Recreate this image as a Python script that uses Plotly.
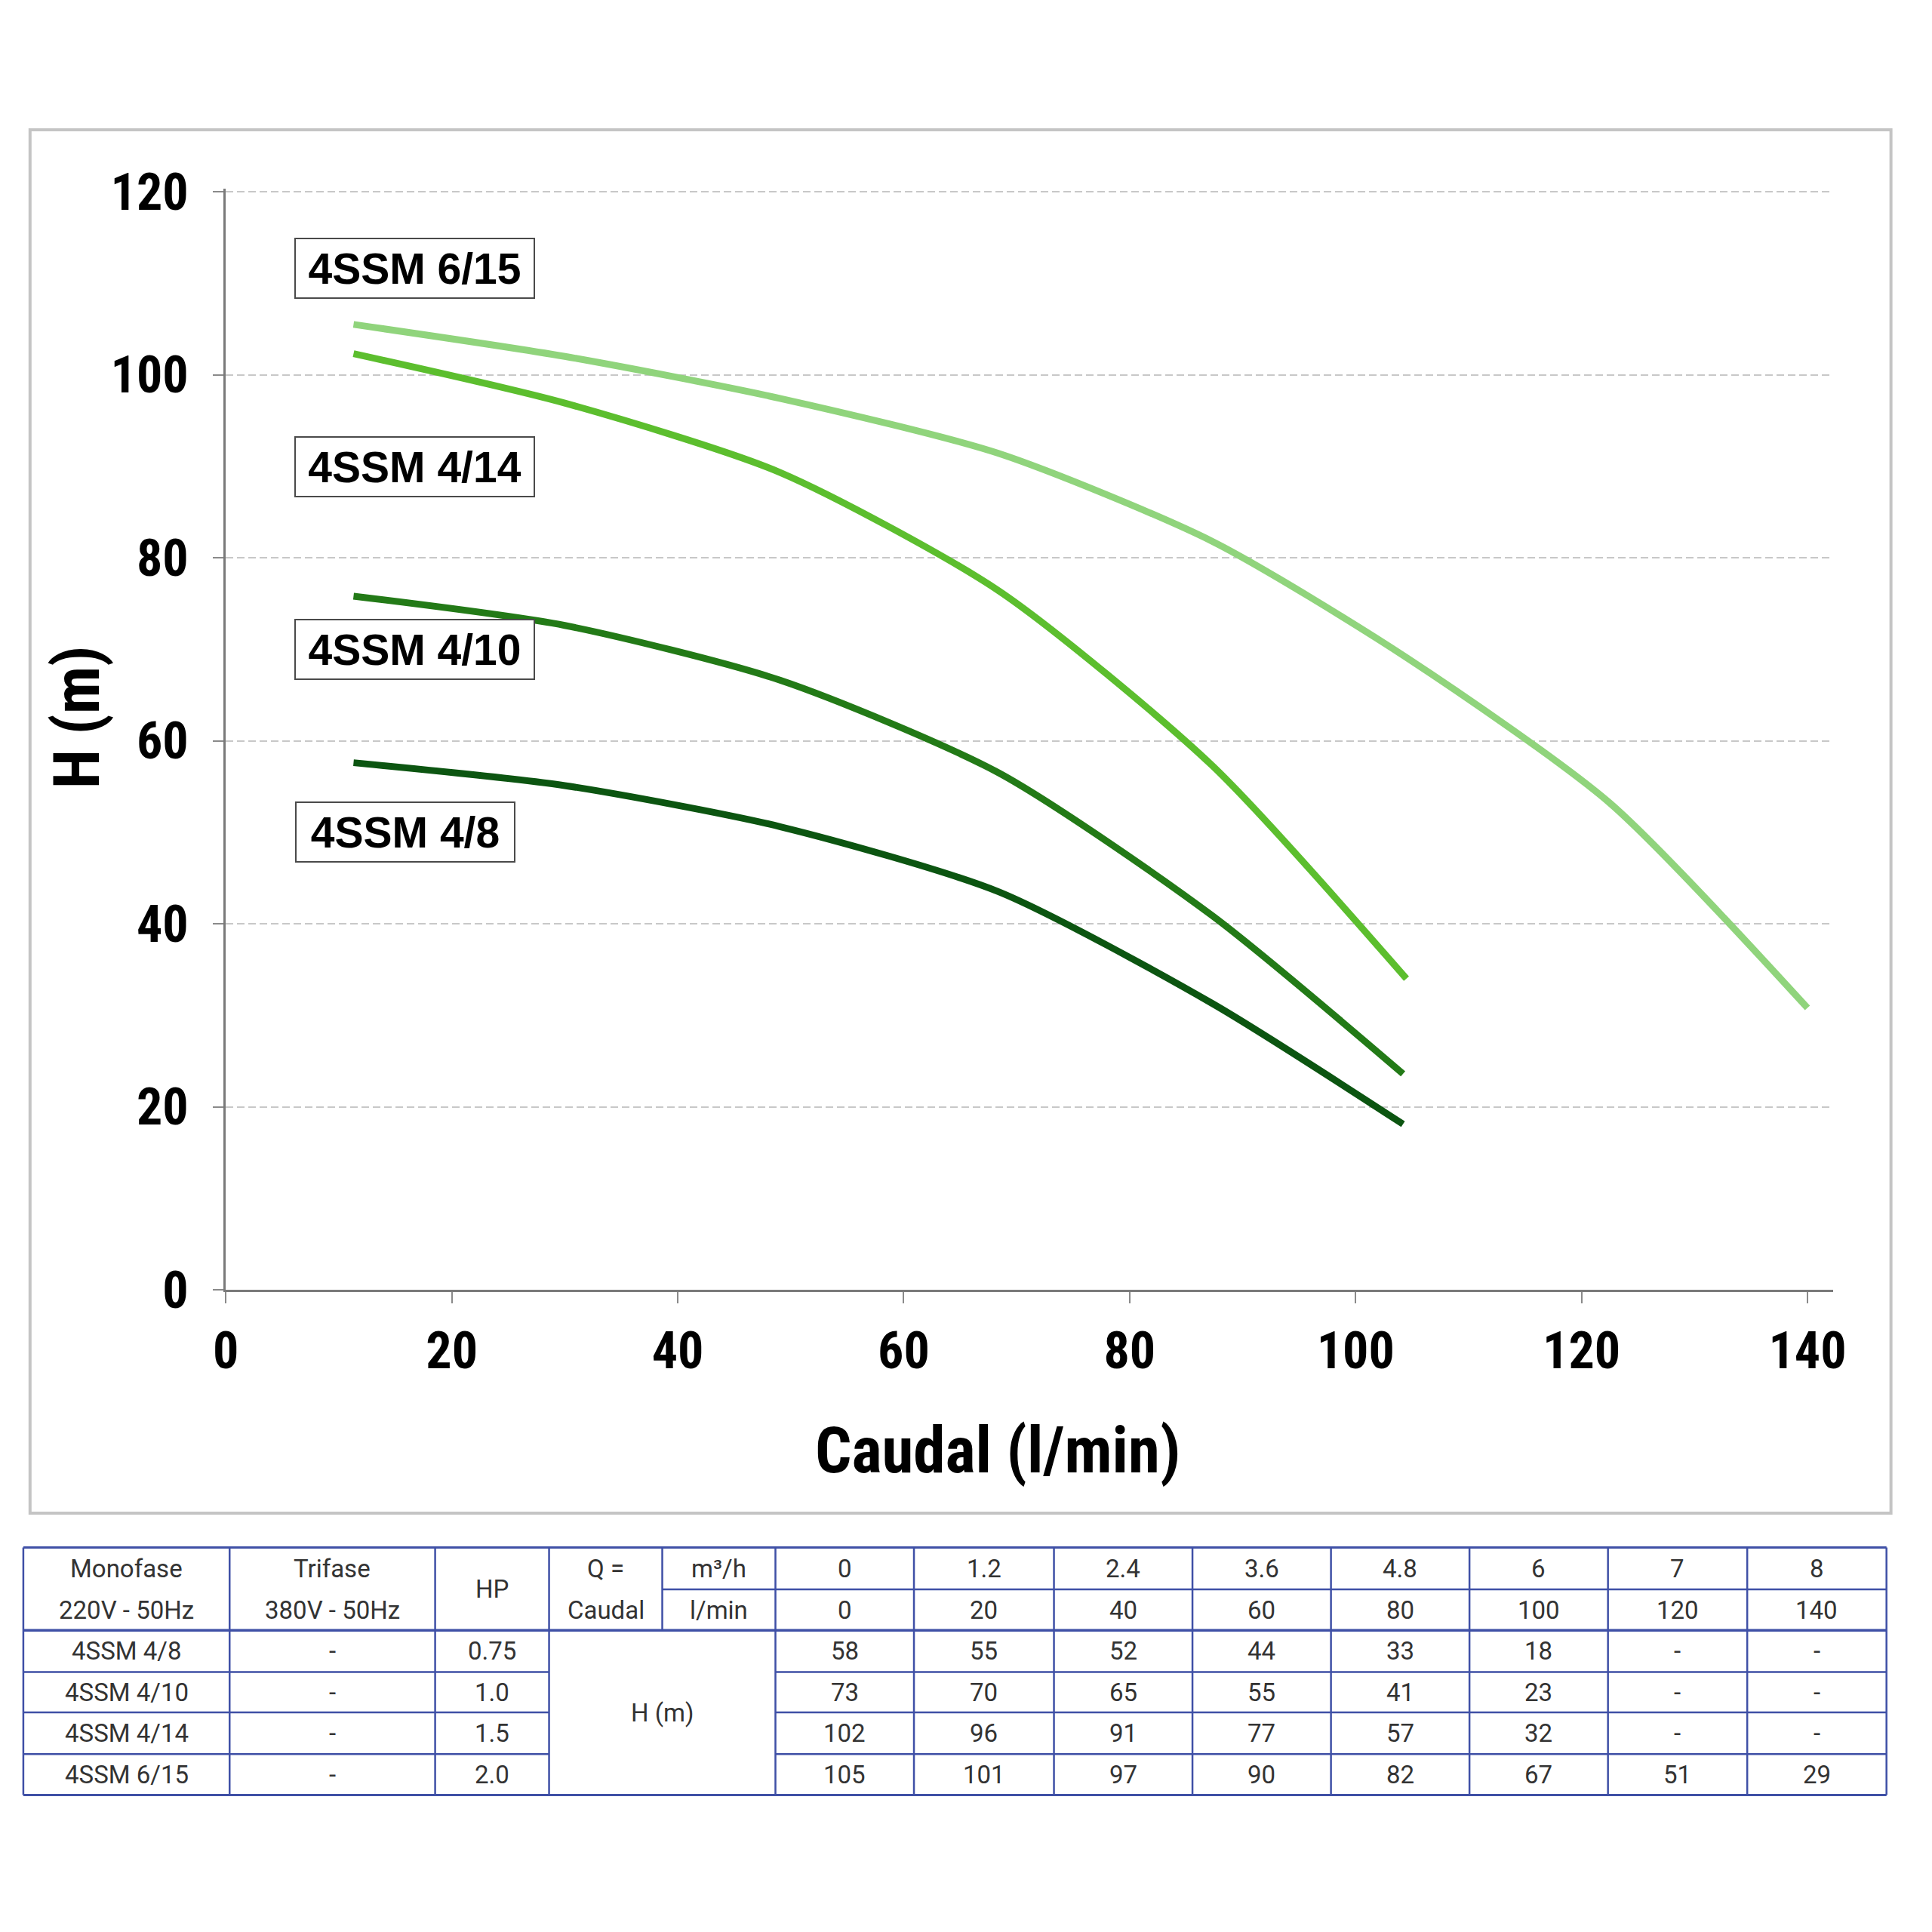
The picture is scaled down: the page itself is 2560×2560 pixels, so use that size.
import plotly.graph_objects as go

# curve data (flow position on the axis, head in m)
flow_4_8 = [11.3, 30.0, 49.1, 68.4, 87.3, 104.2]
head_4_8 = [57.6, 55.1, 50.6, 43.5, 31.3, 18.1]

flow_4_10 = [11.3, 30.0, 49.1, 68.4, 87.3, 104.2]
head_4_10 = [75.8, 72.6, 66.6, 56.5, 40.9, 23.6]

flow_4_14 = [11.3, 30.0, 49.1, 68.4, 87.3, 104.5]
head_4_14 = [102.3, 96.9, 89.3, 76.4, 57.3, 34.0]

flow_6_15 = [11.3, 30.0, 49.1, 68.4, 87.3, 104.5, 122.5, 140.0]
head_6_15 = [105.5, 102.0, 97.4, 91.4, 81.8, 69.1, 53.2, 30.8]

x_ticks = [0, 20, 40, 60, 80, 100, 120, 140]
y_ticks = [0, 20, 40, 60, 80, 100, 120]

# table data
models = ["4SSM 4/8", "4SSM 4/10", "4SSM 4/14", "4SSM 6/15"]
trifase = ["-", "-", "-", "-"]
hp = ["0.75", "1.0", "1.5", "2.0"]
q_m3h = ["0", "1.2", "2.4", "3.6", "4.8", "6", "7", "8"]
q_lmin = ["0", "20", "40", "60", "80", "100", "120", "140"]
h_table = [
    ["58", "55", "52", "44", "33", "18", "-", "-"],
    ["73", "70", "65", "55", "41", "23", "-", "-"],
    ["102", "96", "91", "77", "57", "32", "-", "-"],
    ["105", "101", "97", "90", "82", "67", "51", "29"],
]

W = 2560
H = 2560


def px(x):
    return x / W


def py(y):
    return 1 - y / H


narrow = "Liberation Sans Narrow, Arial Narrow, Roboto Condensed, sans-serif"
bold = "Liberation Sans, Arial, sans-serif"
table_font = dict(family="Roboto, sans-serif", size=33, color="#333333")

fig = go.Figure()

curves = [
    ("4SSM 6/15", flow_6_15, head_6_15, "#90d47c"),
    ("4SSM 4/14", flow_4_14, head_4_14, "#5cbe2e"),
    ("4SSM 4/10", flow_4_10, head_4_10, "#237a17"),
    ("4SSM 4/8", flow_4_8, head_4_8, "#0c5511"),
]
for name, fx, fy, col in curves:
    fig.add_trace(go.Scatter(x=fx, y=fy, name=name, mode="lines",
                             line=dict(color=col, width=9, shape="spline", smoothing=0.7)))

fig.update_layout(
    width=W, height=H,
    margin=dict(l=0, r=0, t=0, b=0),
    paper_bgcolor="white", plot_bgcolor="white",
    showlegend=False,
)

# plot area in pixels: x 0..140 -> 278..2402, y 0..120 -> 1717..217
fig.update_xaxes(
    domain=[px(278), px(2436)], range=[0, 142.25],
    tickvals=x_ticks, showgrid=False, zeroline=False,
    showline=True, linecolor="#7a7a7a", linewidth=3,
    ticks="outside", ticklen=15, tickwidth=2, tickcolor="#8a8a8a",
    tickfont=dict(family=narrow, size=68, color="black", weight="bold"),
    ticklabelstandoff=4,
)
fig.update_yaxes(
    domain=[py(1717), py(213.75)], range=[0, 120.3],
    tickvals=y_ticks, zeroline=False,
    showgrid=True, gridcolor="#c8c8c8", gridwidth=2, griddash="10px,5px",
    showline=True, linecolor="#7a7a7a", linewidth=3,
    ticks="outside", ticklen=14, tickwidth=2, tickcolor="#8a8a8a",
    tickfont=dict(family=narrow, size=68, color="black", weight="bold"),
    ticklabelstandoff=19,
)

annotations = []
shapes = []

# outer frame of the chart
shapes.append(dict(type="rect", xref="paper", yref="paper",
                   x0=px(15), x1=px(2514), y0=py(2022), y1=py(133),
                   line=dict(color="#c4c4c4", width=4), layer="below"))

# axis titles
annotations.append(dict(text="Caudal (l/min)", xref="paper", yref="paper",
                        x=px(1314), y=py(1936), showarrow=False,
                        xanchor="center", yanchor="middle",
                        font=dict(family=narrow, size=85, color="black", weight="bold")))
annotations.append(dict(text="H (m)", xref="paper", yref="paper",
                        x=px(78), y=py(935), showarrow=False, textangle=-90,
                        xanchor="center", yanchor="middle",
                        font=dict(family=narrow, size=85, color="black", weight="bold")))

# model label boxes: text, centre x, centre y, box width
label_boxes = [
    ("4SSM 6/15", 532, 322, 315),
    ("4SSM 4/14", 532, 593, 315),
    ("4SSM 4/10", 532, 843, 315),
    ("4SSM 4/8", 519, 1092, 288),
]
for txt, cx, cy, bw in label_boxes:
    annotations.append(dict(text=txt, xref="paper", yref="paper",
                            x=px(cx), y=py(cy), showarrow=False,
                            xanchor="center", yanchor="middle",
                            width=bw, height=77, align="center",
                            bgcolor="white", bordercolor="#4a4a4a", borderwidth=2, borderpad=0,
                            font=dict(family=bold, size=57, color="black", weight="bold")))

# table grid
cols = [6, 283, 559, 712, 864, 1016, 1202, 1390, 1576, 1762, 1948, 2134, 2321, 2508]
rows = [2069, 2126, 2182, 2239, 2294, 2351, 2407]
blue = "#3f50a6"


def hline(y, x0, x1, w=2.5):
    shapes.append(dict(type="line", xref="paper", yref="paper",
                       x0=px(x0), x1=px(x1), y0=py(y), y1=py(y),
                       line=dict(color=blue, width=w)))


def vline(x, y0, y1, w=2.5):
    shapes.append(dict(type="line", xref="paper", yref="paper",
                       x0=px(x), x1=px(x), y0=py(y0), y1=py(y1),
                       line=dict(color=blue, width=w)))


def cell(txt, cx, cy):
    annotations.append(dict(text=txt, xref="paper", yref="paper",
                            x=px(cx), y=py(cy), showarrow=False,
                            xanchor="center", yanchor="middle", font=table_font))


hline(rows[0], cols[0], cols[-1], 3)
hline(rows[1], cols[4], cols[-1])
hline(rows[2], cols[0], cols[-1], 3.5)
for r in rows[3:6]:
    hline(r, cols[0], cols[3])
    hline(r, cols[5], cols[-1])
hline(rows[-1], cols[0], cols[-1], 3)
for i, c in enumerate(cols):
    if i == 4:
        vline(c, rows[0], rows[2])
    else:
        vline(c, rows[0], rows[-1])

mid = lambda a, b: (a + b) / 2
r1 = mid(rows[0], rows[1])
r2 = mid(rows[1], rows[2])
cell("Monofase", mid(cols[0], cols[1]), r1)
cell("220V - 50Hz", mid(cols[0], cols[1]), r2)
cell("Trifase", mid(cols[1], cols[2]), r1)
cell("380V - 50Hz", mid(cols[1], cols[2]), r2)
cell("HP", mid(cols[2], cols[3]), rows[1])
cell("Q =", mid(cols[3], cols[4]), r1)
cell("Caudal", mid(cols[3], cols[4]), r2)
cell("m³/h", mid(cols[4], cols[5]), r1)
cell("l/min", mid(cols[4], cols[5]), r2)
for j in range(8):
    cx = mid(cols[5 + j], cols[6 + j])
    cell(q_m3h[j], cx, r1)
    cell(q_lmin[j], cx, r2)
cell("H (m)", mid(cols[3], cols[5]), mid(rows[2], rows[-1]))
for i in range(4):
    cy = mid(rows[2 + i], rows[3 + i])
    cell(models[i], mid(cols[0], cols[1]), cy)
    cell(trifase[i], mid(cols[1], cols[2]), cy)
    cell(hp[i], mid(cols[2], cols[3]), cy)
    for j in range(8):
        cell(h_table[i][j], mid(cols[5 + j], cols[6 + j]), cy)

fig.update_layout(annotations=annotations, shapes=shapes)

fig.write_html("out.html")
